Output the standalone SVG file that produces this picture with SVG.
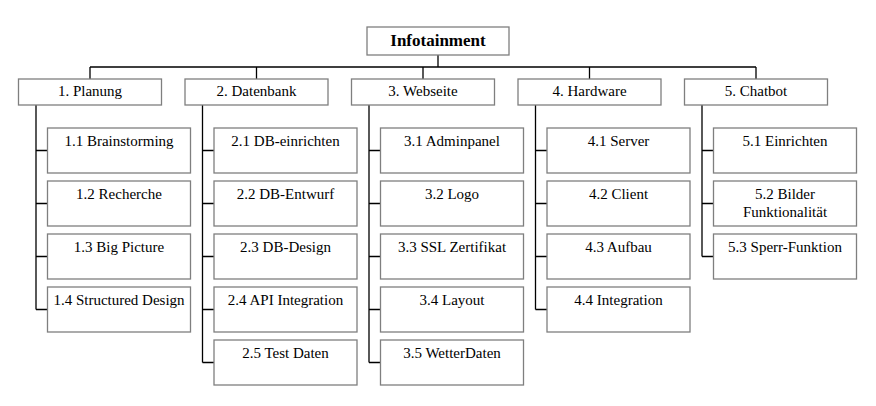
<svg xmlns="http://www.w3.org/2000/svg" width="876" height="406" viewBox="0 0 876 406">
<style>
.box{fill:#fff;stroke:#7f7f7f;stroke-width:1.3}
.t{font-family:"Liberation Serif","Times New Roman",serif;font-size:15px;fill:#000;text-anchor:middle}
.root{font-weight:bold;font-size:17px}
.c{fill:none;stroke:#000;stroke-width:1.3}
</style>
<rect width="876" height="406" fill="#fff"/>
<g id="connectors" class="c">
<path d="M438 55V67M90 67H756M90 67V79M256.5 67V79M423 67V79M589.5 67V79M756 67V79"/>
<path d="M36 105V309.5M36 150.5H47.5M36 203.5H47.5M36 256.5H47.5M36 309.5H47.5"/>
<path d="M202.5 105V362.5M202.5 150.5H214M202.5 203.5H214M202.5 256.5H214M202.5 309.5H214M202.5 362.5H214"/>
<path d="M369 105V362.5M369 150.5H380.5M369 203.5H380.5M369 256.5H380.5M369 309.5H380.5M369 362.5H380.5"/>
<path d="M535.5 105V309.5M535.5 150.5H547M535.5 203.5H547M535.5 256.5H547M535.5 309.5H547"/>
<path d="M702 105V256.5M702 150.5H713.5M702 203.5H713.5M702 256.5H713.5"/>
</g>
<g id="root"><rect class="box" x="367" y="27" width="142" height="28"/><text class="t root" x="438" y="46">Infotainment</text></g>
<g id="n1"><rect class="box" x="18.5" y="79" width="143" height="26"/><text class="t" x="90" y="96">1. Planung</text></g>
<g id="n2"><rect class="box" x="185" y="79" width="143" height="26"/><text class="t" x="256.5" y="96">2. Datenbank</text></g>
<g id="n3"><rect class="box" x="351.5" y="79" width="143" height="26"/><text class="t" x="423" y="96">3. Webseite</text></g>
<g id="n4"><rect class="box" x="518" y="79" width="143" height="26"/><text class="t" x="589.5" y="96">4. Hardware</text></g>
<g id="n5"><rect class="box" x="684.5" y="79" width="143" height="26"/><text class="t" x="756" y="96">5. Chatbot</text></g>

<g id="n1_1"><rect class="box" x="47.5" y="128" width="143" height="45"/><text class="t" x="119" y="146">1.1 Brainstorming</text></g>
<g id="n1_2"><rect class="box" x="47.5" y="181" width="143" height="45"/><text class="t" x="119" y="199">1.2 Recherche</text></g>
<g id="n1_3"><rect class="box" x="47.5" y="234" width="143" height="45"/><text class="t" x="119" y="252">1.3 Big Picture</text></g>
<g id="n1_4"><rect class="box" x="47.5" y="287" width="143" height="45"/><text class="t" x="119" y="305">1.4 Structured Design</text></g>

<g id="n2_1"><rect class="box" x="214" y="128" width="143" height="45"/><text class="t" x="285.5" y="146">2.1 DB-einrichten</text></g>
<g id="n2_2"><rect class="box" x="214" y="181" width="143" height="45"/><text class="t" x="285.5" y="199">2.2 DB-Entwurf</text></g>
<g id="n2_3"><rect class="box" x="214" y="234" width="143" height="45"/><text class="t" x="285.5" y="252">2.3 DB-Design</text></g>
<g id="n2_4"><rect class="box" x="214" y="287" width="143" height="45"/><text class="t" x="285.5" y="305">2.4 API Integration</text></g>
<g id="n2_5"><rect class="box" x="214" y="340" width="143" height="45"/><text class="t" x="285.5" y="358">2.5 Test Daten</text></g>

<g id="n3_1"><rect class="box" x="380.5" y="128" width="143" height="45"/><text class="t" x="452" y="146">3.1 Adminpanel</text></g>
<g id="n3_2"><rect class="box" x="380.5" y="181" width="143" height="45"/><text class="t" x="452" y="199">3.2 Logo</text></g>
<g id="n3_3"><rect class="box" x="380.5" y="234" width="143" height="45"/><text class="t" x="452" y="252">3.3 SSL Zertifikat</text></g>
<g id="n3_4"><rect class="box" x="380.5" y="287" width="143" height="45"/><text class="t" x="452" y="305">3.4 Layout</text></g>
<g id="n3_5"><rect class="box" x="380.5" y="340" width="143" height="45"/><text class="t" x="452" y="358">3.5 WetterDaten</text></g>

<g id="n4_1"><rect class="box" x="547" y="128" width="143" height="45"/><text class="t" x="618.5" y="146">4.1 Server</text></g>
<g id="n4_2"><rect class="box" x="547" y="181" width="143" height="45"/><text class="t" x="618.5" y="199">4.2 Client</text></g>
<g id="n4_3"><rect class="box" x="547" y="234" width="143" height="45"/><text class="t" x="618.5" y="252">4.3 Aufbau</text></g>
<g id="n4_4"><rect class="box" x="547" y="287" width="143" height="45"/><text class="t" x="618.5" y="305">4.4 Integration</text></g>

<g id="n5_1"><rect class="box" x="713.5" y="128" width="143" height="45"/><text class="t" x="785" y="146">5.1 Einrichten</text></g>
<g id="n5_2"><rect class="box" x="713.5" y="181" width="143" height="45"/><text class="t" x="785" y="199">5.2 Bilder</text><text class="t" x="785" y="217">Funktionalität</text></g>
<g id="n5_3"><rect class="box" x="713.5" y="234" width="143" height="45"/><text class="t" x="785" y="252">5.3 Sperr-Funktion</text></g>
</svg>
